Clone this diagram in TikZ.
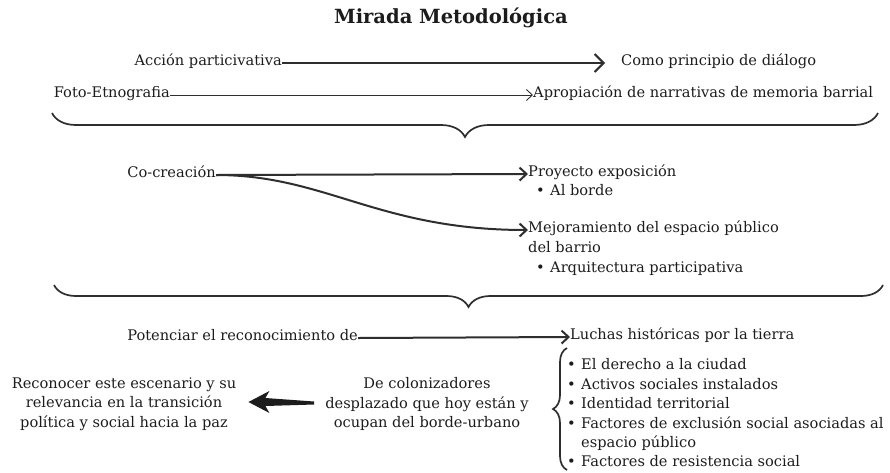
\documentclass[tikz,border=0pt]{standalone}
\usepackage{fontspec}
\setmainfont{DejaVu Serif}
\usetikzlibrary{arrows.meta,decorations.pathreplacing,calc}
\definecolor{ink}{HTML}{1C1C1C}
\definecolor{linec}{HTML}{2E2E2E}
\newcommand\bul{\makebox[14pt][l]{\textbullet}}
\begin{document}
\begin{tikzpicture}[x=1pt,y=-1pt,
  txt/.style={inner sep=0pt, font=\fontsize{14.6}{19.4}\selectfont, text=ink},
  ttl/.style={inner sep=0pt, font=\fontsize{19.5}{22}\selectfont\bfseries, text=ink},
  arrA/.style={draw=linec, line width=2pt, -{Straight Barb[length=9pt,width=18pt]}},
  arrB/.style={draw=linec, line width=0.9pt, -{Straight Barb[length=6pt,width=11pt]}},
  arrC/.style={draw=linec, line width=2pt, -{Straight Barb[length=7pt,width=13pt]}},
  brc/.style={draw=linec, line width=1.7pt, decorate},
  fatarrow/.style={fill=ink, draw=none}]
\useasboundingbox (0,0) rectangle (890,472);

\node[ttl] (ttl) at (451,18) {Mirada Metodológica};

% row 1
\node[txt,anchor=mid east] (ap) at (282,63) {Acción particivativa};
\node[txt,anchor=mid west] (cp) at (621,63) {Como principio de diálogo};
\coordinate (cpe) at (605,63);
\draw[arrA] (ap.mid east) -- (cpe);

% row 2
\node[txt,anchor=mid east] (fe) at (170,95) {Foto-Etnografia};
\node[txt,anchor=mid west] (an) at (533,95) {Apropiación de narrativas de memoria barrial};
\draw[arrB] (fe.mid east) -- (an.mid west);

% brace 1
\draw[brc, decoration={brace,mirror,amplitude=24pt}] (52,113) -- (878,113);

% co-creacion
\node[txt,anchor=mid east] (cc) at (216,175) {Co-creación};
\node[txt,anchor=mid west] (pe) at (528,174) {Proyecto exposición};
\node[txt,anchor=mid west] (ab) at (536,193) {\bul Al borde};
\draw[arrC] (cc.mid east) -- (pe.mid west);
\node[txt,anchor=mid west] (me) at (528,230) {Mejoramiento del espacio público};
\node[txt,anchor=mid west] (db) at (528,250) {del barrio};
\node[txt,anchor=mid west] (aq) at (536,270) {\bul Arquitectura participativa};
\draw[arrC] (cc.mid east) .. controls +(110,0) and +(-150,0) .. (me.mid west);

% brace 2
\draw[brc, decoration={brace,mirror,amplitude=22pt}] (54,285) -- (883,285);

% potenciar
\node[txt,anchor=mid east] (pr) at (358,338) {Potenciar el reconocimiento de};
\node[txt,anchor=mid west] (lh) at (570,337) {Luchas históricas por la tierra};
\draw[arrC] (pr.mid east) -- (lh.mid west);

% list with brace
\node[txt,anchor=west,align=left] (ls) at (567,413) {\bul El derecho a la ciudad\\
\bul Activos sociales instalados\\
\bul Identidad territorial\\
\bul Factores de exclusión social asociadas al\\
\hspace*{14pt}espacio público\\
\bul Factores de resistencia social};
\draw[brc, decoration={brace,amplitude=14pt}] (567,470) -- (567,348);

% bottom texts
\node[txt,align=center] (rc) at (124,404) {Reconocer este escenario y su\\relevancia en la transición\\política y social hacia la paz};
\node[txt,align=center] (dc) at (427,404) {De colonizadores\\desplazado que hoy están y\\ocupan del borde-urbano};

\coordinate (bs) at ($(dc.west)+(-11,-1)$);
\coordinate (bt) at ($(rc.east)+(12,-2)$);
\fill[fatarrow] (bt) -- ($(bt)+(21,-11)$) -- ($(bt)+(17,-4)$) -- ($(bs)+(0,-1.5)$)
  -- ($(bs)+(0,1.5)$) -- ($(bt)+(17,4)$) -- ($(bt)+(21,11)$) -- cycle;
\end{tikzpicture}
\end{document}
